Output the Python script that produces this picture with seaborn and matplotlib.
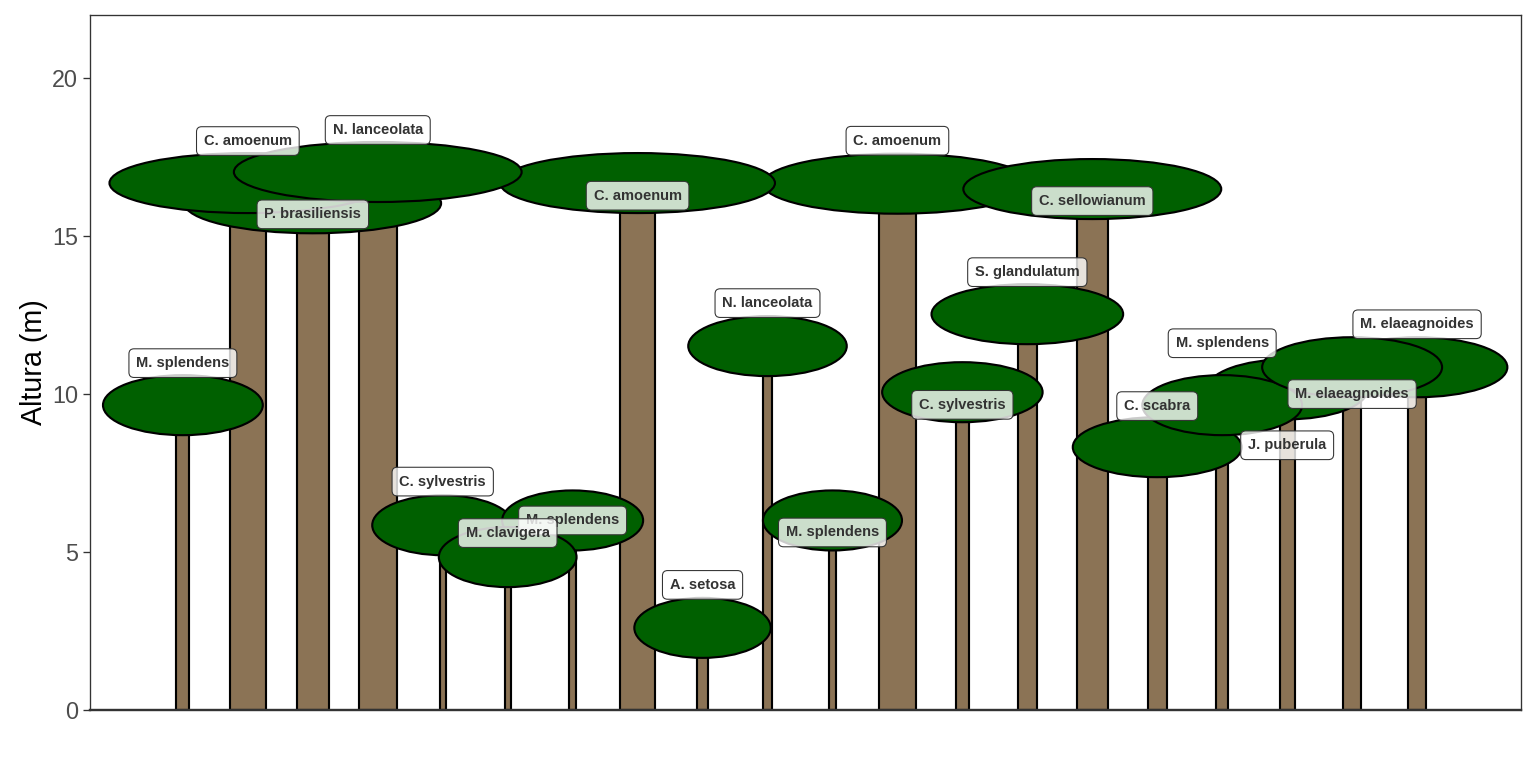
import matplotlib
matplotlib.use("Agg")
import matplotlib.pyplot as plt
from matplotlib.patches import Ellipse
import pandas as pd
import seaborn as sns

# Forest profile: one tree per position, crown drawn at the tree height
species = [
    "M. splendens", "C. amoenum", "P. brasiliensis", "N. lanceolata",
    "C. sylvestris", "M. clavigera", "M. splendens", "C. amoenum",
    "A. setosa", "N. lanceolata", "M. splendens", "C. amoenum",
    "C. sylvestris", "S. glandulatum", "C. sellowianum", "C. scabra",
    "M. splendens", "J. puberula", "M. elaeagnoides", "M. elaeagnoides",
]
position = list(range(1, 21))
height = [9.65, 16.68, 16.04, 17.03, 5.85, 4.84, 6.0, 16.68, 2.6, 11.52,
          6.0, 16.66, 10.06, 12.53, 16.49, 8.32, 9.65, 10.15, 10.85, 10.85]
trunk_width = [0.20, 0.55, 0.50, 0.58, 0.09, 0.09, 0.10, 0.55, 0.18, 0.15,
               0.10, 0.56, 0.20, 0.30, 0.47, 0.29, 0.18, 0.23, 0.27, 0.27]
crown_width = [2.46, 4.26, 3.95, 4.43, 2.17, 2.12, 2.17, 4.23, 2.10, 2.44,
               2.14, 4.14, 2.47, 2.95, 3.97, 2.60, 2.46, 2.48, 2.77, 2.78]
# original row order of the survey (controls which crown sits on top)
row_layer = [1, 2, 1, 3, 1, 2, 1, 2, 1, 1, 1, 1, 1, 1, 2, 1, 2, 1, 2, 1]
# where ggrepel ended up putting each label, relative to the crown centre (m)
label_offset = [1.33, 1.33, -0.35, 1.33, 1.38, 0.76, 0.0, -0.4, 1.36, 1.36,
                -0.38, 1.36, -0.4, 1.33, -0.38, 1.3, 1.96, -1.77, -0.85, 1.36]

crown_depth = 1.9

df = pd.DataFrame({
    "especie": species,
    "x": position,
    "altura": height,
    "tronco": trunk_width,
    "copa": crown_width,
    "camada": row_layer,
    "label_y": [h + o for h, o in zip(height, label_offset)],
})
df = df.sort_values(["camada", "x"], kind="stable").reset_index(drop=True)

sns.set_theme(style="white")
plt.rcParams["font.family"] = ["Liberation Sans", "DejaVu Sans"]

fig = plt.figure(figsize=(16, 8), dpi=96)
ax = fig.add_axes([90 / 1536, 58 / 768, 1431 / 1536, 695 / 768])

# trunks
ax.bar(df["x"], df["altura"], width=df["tronco"], color="#8B7355",
       edgecolor="black", linewidth=1.6, zorder=2)

# crowns
for i, row in df.iterrows():
    ax.add_patch(Ellipse((row["x"], row["altura"]), row["copa"], crown_depth,
                         facecolor="#006000", edgecolor="black",
                         linewidth=1.6, zorder=3 + i * 0.01))

# labels
for i, row in df.iterrows():
    ax.text(row["x"], row["label_y"], row["especie"], ha="center", va="center",
            fontsize=11, fontweight="bold", color="#333333", zorder=10 + i * 0.01,
            bbox=dict(boxstyle="round,pad=0.5,rounding_size=0.35",
                      facecolor=(1, 1, 1, 0.8), edgecolor="#333333",
                      linewidth=0.8))

ax.set_xlim(-0.43, 21.6)
ax.set_ylim(0, 22)
ax.set_xticks([])
ax.set_yticks([0, 5, 10, 15, 20])
ax.tick_params(axis="y", length=5, width=1, color="#333333", pad=4,
               labelsize=17.5, labelcolor="#4D4D4D", left=True)
ax.set_ylabel("Altura (m)", fontsize=21.5, color="black", labelpad=3)
ax.set_xlabel("")

for side in ["top", "right", "left"]:
    ax.spines[side].set_color("#333333")
    ax.spines[side].set_linewidth(1.0)
ax.spines["bottom"].set_color("#333333")
ax.spines["bottom"].set_linewidth(1.8)

fig.savefig("out.png", dpi=96)
